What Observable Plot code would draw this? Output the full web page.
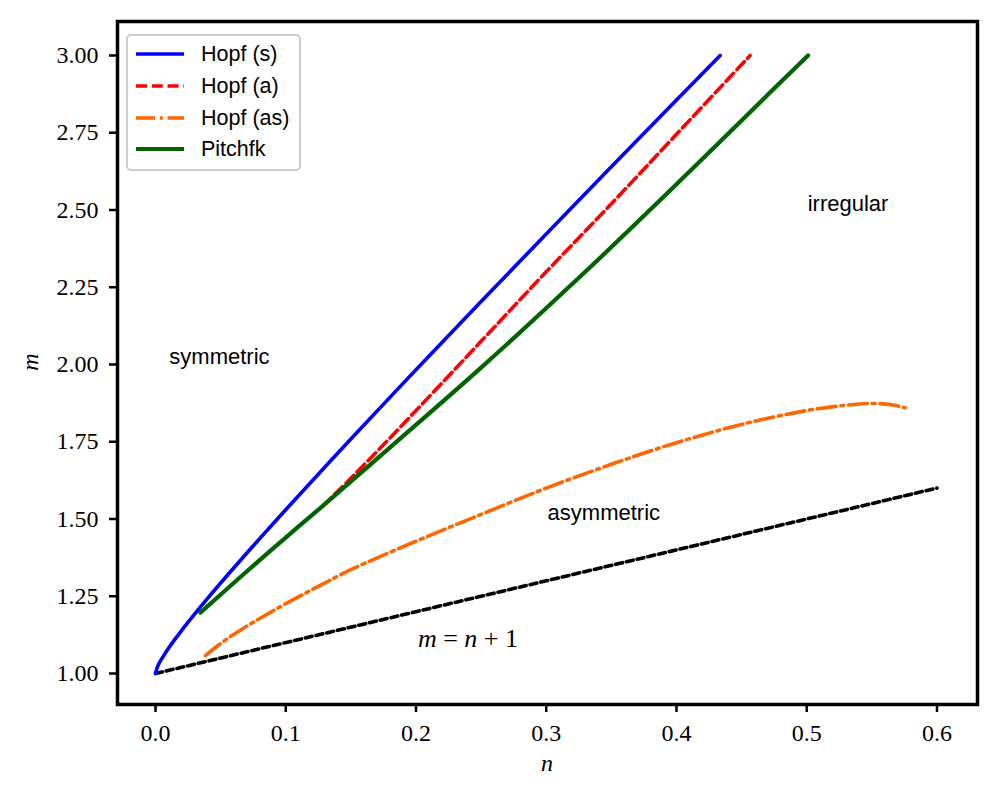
<!DOCTYPE html>
<html>
<head>
<meta charset="utf-8">
<script src="https://cdn.jsdelivr.net/npm/d3@7"></script>
<script src="https://cdn.jsdelivr.net/npm/@observablehq/plot@0.6"></script>
<style>
  body { margin: 0; background: #fff; }
  #wrap { position: relative; width: 1000px; height: 800px; }
  #legend {
    position: absolute; left: 126px; top: 34px; width: 171px; height: 133px;
    border: 2px solid #cccccc; border-radius: 5px; background: rgba(255,255,255,0.85);
    font-family: "Liberation Sans", Arial, sans-serif; font-size: 21.5px; color: #000;
  }
  #legend .row { position: absolute; left: 0; height: 24px; }
  #legend svg { position: absolute; left: 7px; top: 0; }
  #legend span { position: absolute; left: 73px; top: 0; line-height: 24px; white-space: nowrap; }
</style>
</head>
<body>
<div id="wrap"></div>
<script>
// ---- data ----
const hopfS_n = [0, 0.002, 0.005, 0.01, 0.02, 0.03, 0.04, 0.055, 0.07, 0.085, 0.1, 0.125, 0.15, 0.2, 0.25, 0.3, 0.35, 0.4, 0.4335];
const hopfS_m = [1.0, 1.027, 1.049, 1.082, 1.139, 1.192, 1.243, 1.317, 1.389, 1.460, 1.530, 1.645, 1.759, 1.983, 2.204, 2.422, 2.640, 2.856, 3.0];

const hopfA_n = [0.129, 0.15, 0.18, 0.25, 0.3, 0.35, 0.4, 0.4565];
const hopfA_m = [1.544, 1.632, 1.762, 2.075, 2.30, 2.52, 2.745, 3.0];

const hopfAS_n = [0.0384, 0.045, 0.055, 0.07, 0.085, 0.1, 0.125, 0.15, 0.2, 0.25, 0.3, 0.35, 0.4, 0.45, 0.5, 0.53, 0.55, 0.565, 0.5755];
const hopfAS_m = [1.058, 1.081, 1.112, 1.153, 1.19, 1.226, 1.282, 1.336, 1.428, 1.515, 1.6, 1.677, 1.747, 1.806, 1.851, 1.868, 1.874, 1.870, 1.860];

const pitch_n = [0.0345, 0.07, 0.1, 0.13, 0.19, 0.25, 0.33, 0.4, 0.45, 0.501];
const pitch_m = [1.197, 1.33, 1.44, 1.548, 1.768, 1.99, 2.30, 2.583, 2.79, 3.0];

const diag_n = [0, 0.6];
const diag_m = [1.0, 1.6];

const xTicks = [0, 0.1, 0.2, 0.3, 0.4, 0.5, 0.6];
const yTicks = [1.0, 1.25, 1.5, 1.75, 2.0, 2.25, 2.5, 2.75, 3.0];

const labels = ["symmetric", "irregular", "asymmetric"];
const label_n = [0.0491, 0.5317, 0.3442];
const label_m = [2.023, 2.521, 1.521];

const series = [
  {name: "Hopf (s)", n: hopfS_n, m: hopfS_m, color: "#0000ff", dash: null, w: 3.6},
  {name: "Hopf (a)", n: hopfA_n, m: hopfA_m, color: "#ff0000", dash: "11,4.8", w: 3.6},
  {name: "Hopf (as)", n: hopfAS_n, m: hopfAS_m, color: "#ff6600", dash: "19,4.8,3,4.8", w: 3.6},
  {name: "Pitchfk", n: pitch_n, m: pitch_m, color: "#006400", dash: null, w: 4.2}
];

// plot geometry
const W = 1000, H = 800, mL = 117, mR = 23, mT = 21, mB = 96;
const xDom = [-0.02917, 0.6311], yDom = [0.8997, 3.110];
const xUnit = (xDom[1] - xDom[0]) / (W - mL - mR); // data per px
const yUnit = (yDom[1] - yDom[0]) / (H - mT - mB);
const tickLen = 8;

const toPts = (ns, ms) => ns.map((v, i) => ({n: v, m: ms[i]}));
const serif = "'Liberation Serif', 'DejaVu Serif', serif";
const sans = "'Liberation Sans', Arial, sans-serif";

const marks = [
  Plot.line(toPts(diag_n, diag_m), {x: "n", y: "m", stroke: "#000", strokeWidth: 3.6, strokeDasharray: "7,4"})
];
for (const s of series) {
  marks.push(Plot.line(toPts(s.n, s.m), {
    x: "n", y: "m", stroke: s.color, strokeWidth: s.w, curve: "catmull-rom",
    strokeDasharray: s.dash || undefined
  }));
}
marks.push(Plot.text(labels, {
  x: (d, i) => label_n[i], y: (d, i) => label_m[i], text: d => d,
  fontFamily: sans, fontSize: 22, fill: "#000", textAnchor: "middle"
}));
marks.push(Plot.text(["m = n + 1"], {
  x: [0.2399], y: [1.1113], text: d => d, fontFamily: serif, fontSize: 26, fill: "#000",
  textAnchor: "middle", className: "mathlabel"
}));
// ticks (outside the frame)
marks.push(Plot.ruleX(xTicks, {x: d => d, y1: () => yDom[0], y2: () => yDom[0] - tickLen * yUnit, stroke: "#000", strokeWidth: 2.5}));
marks.push(Plot.ruleY(yTicks, {y: d => d, x1: () => xDom[0], x2: () => xDom[0] - tickLen * xUnit, stroke: "#000", strokeWidth: 2.5}));
// tick labels
marks.push(Plot.text(xTicks, {x: d => d, y: () => yDom[0] - 29 * yUnit, text: d3.format(".1f"),
  fontFamily: serif, fontSize: 24, fill: "#000", textAnchor: "middle"}));
marks.push(Plot.text(yTicks, {y: d => d, x: () => xDom[0] - 19 * xUnit, text: d3.format(".2f"),
  fontFamily: serif, fontSize: 24, fill: "#000", textAnchor: "end"}));
marks.push(Plot.frame({stroke: "#000", strokeWidth: 3.5}));

const chart = Plot.plot({
  width: W, height: H,
  marginLeft: mL, marginRight: mR, marginTop: mT, marginBottom: mB,
  style: {background: "#fff", color: "#000", overflow: "visible"},
  x: {domain: xDom, label: null, axis: null},
  y: {domain: yDom, label: null, axis: null},
  marks
});

// italic math variables for m = n + 1
chart.querySelectorAll("g.mathlabel text").forEach(t => {
  t.textContent = "";
  const parts = [["m", true], [" = ", false], ["n", true], [" + 1", false]];
  for (const [s, it] of parts) {
    const ts = document.createElementNS("http://www.w3.org/2000/svg", "tspan");
    ts.textContent = s;
    if (it) ts.setAttribute("font-style", "italic");
    t.appendChild(ts);
  }
  t.setAttribute("xml:space", "preserve");
  t.style.whiteSpace = "pre";
});

// axis labels (italic n, m)
const ns = "http://www.w3.org/2000/svg";
const xl = document.createElementNS(ns, "text");
xl.setAttribute("x", 547); xl.setAttribute("y", 771);
xl.setAttribute("text-anchor", "middle");
xl.setAttribute("font-family", serif); xl.setAttribute("font-style", "italic");
xl.setAttribute("font-size", 24); xl.textContent = "n";
chart.appendChild(xl);
const yl = document.createElementNS(ns, "text");
yl.setAttribute("transform", "translate(38,362) rotate(-90)");
yl.setAttribute("text-anchor", "middle");
yl.setAttribute("font-family", serif); yl.setAttribute("font-style", "italic");
yl.setAttribute("font-size", 24); yl.textContent = "m";
chart.appendChild(yl);

const wrap = document.getElementById("wrap");
wrap.appendChild(chart);

// legend
const leg = document.createElement("div");
leg.id = "legend";
const rowTops = [6, 38, 70, 101];
series.forEach((s, i) => {
  const row = document.createElement("div");
  row.className = "row";
  row.style.top = rowTops[i] + "px";
  row.style.width = "170px";
  row.innerHTML = `<svg width="50" height="24"><line x1="1" y1="12" x2="49" y2="12" stroke="${s.color}" stroke-width="${s.w}" ${s.dash ? `stroke-dasharray="${s.dash}"` : ""}/></svg><span>${s.name}</span>`;
  leg.appendChild(row);
});
wrap.appendChild(leg);
</script>
</body>
</html>
